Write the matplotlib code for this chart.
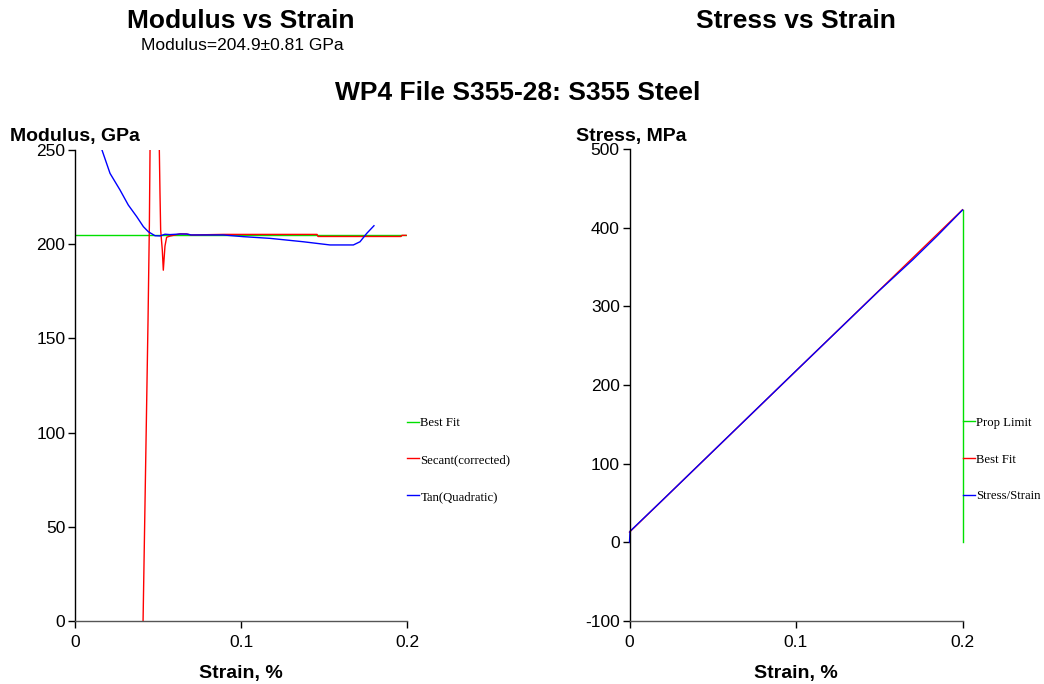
import matplotlib
matplotlib.use("Agg")
import matplotlib.pyplot as plt
from matplotlib.ticker import FixedLocator, FuncFormatter

plt.rcParams['font.family'] = ['Liberation Sans', 'DejaVu Sans']

# ---------------- data ----------------
# Left panel: Modulus vs Strain
bestfit_strain = [0.0, 0.2]
bestfit_mod = [204.9, 204.9]

secant_strain_a = [0.0410, 0.0425, 0.0440, 0.0448, 0.0452, 0.0458]
secant_mod_a = [0.0, 80.0, 160.0, 210.0, 250.0, 300.0]
secant_strain_b = [0.0504, 0.0508, 0.0512, 0.0516, 0.0526, 0.0532, 0.0542,
                   0.0552, 0.0572, 0.0633, 0.0673, 0.0700, 0.0893, 0.1458,
                   0.1464, 0.1964, 0.1970, 0.1994]
secant_mod_b = [300.0, 250.0, 227.0, 207.5, 196.8, 186.2, 199.0,
                203.7, 204.3, 205.5, 205.4, 204.9, 205.2, 205.2,
                204.1, 204.1, 204.7, 204.7]

tan_strain = [0.0161, 0.0211, 0.0271, 0.0321, 0.0372, 0.0412, 0.0442, 0.0482,
              0.0512, 0.0542, 0.0572, 0.0633, 0.0673, 0.0700, 0.0893, 0.1014,
              0.1175, 0.1275, 0.1375, 0.1536, 0.1677, 0.1717, 0.1757, 0.1801]
tan_mod = [250.4, 237.6, 228.8, 220.8, 214.6, 209.3, 206.6, 204.5,
           204.4, 205.3, 205.1, 205.4, 205.4, 204.9, 204.9, 204.0,
           203.1, 202.2, 201.3, 199.6, 199.6, 201.3, 205.7, 209.8]

# Right panel: Stress vs Strain
prop_strain = [0.2, 0.2]
prop_stress = [0.0, 422.5]

fit_strain = [0.0, 0.2]
fit_stress = [13.0, 422.8]

ss_strain = [0.0, 0.0003, 0.02, 0.05, 0.10, 0.15, 0.17, 0.185, 0.2]
ss_stress = [0.0, 14.0, 54.0, 115.5, 218.0, 320.0, 359.0, 390.0, 422.5]

x_ticks = [0.0, 0.1, 0.2]
left_yticks = [0, 50, 100, 150, 200, 250]
right_yticks = [-100, 0, 100, 200, 300, 400, 500]

GREEN = '#00e000'
RED = '#ff0000'
BLUE = '#0000ff'

# ---------------- figure ----------------
W, H = 1044, 684
fig = plt.figure(figsize=(W / 100, H / 100), dpi=100)

def px_axes(x0, y0, x1, y1):
    return fig.add_axes([x0 / W, 1 - y1 / H, (x1 - x0) / W, (y1 - y0) / H])

axL = px_axes(75, 150, 407, 621)
axR = px_axes(629.5, 149, 962.5, 621)

fmt = FuncFormatter(lambda v, p: ('%g' % round(v, 6)))

def style(ax, yticks, ylim):
    ax.set_xlim(0, 0.2)
    ax.set_ylim(*ylim)
    ax.xaxis.set_major_locator(FixedLocator(x_ticks))
    ax.yaxis.set_major_locator(FixedLocator(yticks))
    ax.xaxis.set_major_formatter(fmt)
    ax.yaxis.set_major_formatter(fmt)
    for s in ('top', 'right'):
        ax.spines[s].set_visible(False)
    ax.spines['left'].set_color('black')
    ax.spines['bottom'].set_color('#555555')
    ax.spines['left'].set_linewidth(1.0)
    ax.spines['bottom'].set_linewidth(1.0)
    ax.tick_params(direction='out', length=5, width=1, labelsize=12.5, pad=2)
    ax.tick_params(axis='x', pad=5)
    ax.patch.set_visible(False)

style(axL, left_yticks, (0, 250))
style(axR, right_yticks, (-100, 500))

lw = 1.0
axL.plot(bestfit_strain, bestfit_mod, color=GREEN, lw=lw, label='Best Fit')
axL.plot(secant_strain_a, secant_mod_a, color=RED, lw=lw, label='Secant(corrected)')
axL.plot(secant_strain_b, secant_mod_b, color=RED, lw=lw)
axL.plot(tan_strain, tan_mod, color=BLUE, lw=lw, label='Tan(Quadratic)')

axR.plot(prop_strain, prop_stress, color=GREEN, lw=lw, label='Prop Limit', clip_on=False)
axR.plot(fit_strain, fit_stress, color=RED, lw=lw, label='Best Fit', clip_on=False)
axR.plot(ss_strain, ss_stress, color=BLUE, lw=lw, label='Stress/Strain', clip_on=False)

leg_kw = dict(loc='center left', frameon=False, handlelength=0.95, handletextpad=0.1,
              borderpad=0, borderaxespad=0, labelspacing=1.95,
              prop={'family': 'Liberation Serif', 'size': 9.2})
axL.legend(bbox_to_anchor=(1.0, 0.342), **leg_kw)
axR.legend(bbox_to_anchor=(1.0, 0.342), **leg_kw)

# axis labels
lab_kw = dict(fontsize=14, fontweight='bold')
axL.set_xlabel('Strain, %', labelpad=11, **lab_kw)
axR.set_xlabel('Strain, %', labelpad=11, **lab_kw)
fig.text(10 / W, 1 - 136 / H, 'Modulus, GPa', ha='left', va='center', **lab_kw)
fig.text(576 / W, 1 - 136 / H, 'Stress, MPa', ha='left', va='center', **lab_kw)

# titles
fig.text(241 / W, 1 - 21 / H, 'Modulus vs Strain', ha='center', va='center',
         fontsize=19, fontweight='bold')
fig.text(242 / W, 1 - 46 / H, 'Modulus=204.9\u00b10.81 GPa', ha='center', va='center',
         fontsize=12.5)
fig.text(796 / W, 1 - 21 / H, 'Stress vs Strain', ha='center', va='center',
         fontsize=19, fontweight='bold')
fig.text(518 / W, 1 - 93 / H, 'WP4 File S355-28: S355 Steel', ha='center', va='center',
         fontsize=19, fontweight='bold')

fig.savefig('out.png', dpi=100)
